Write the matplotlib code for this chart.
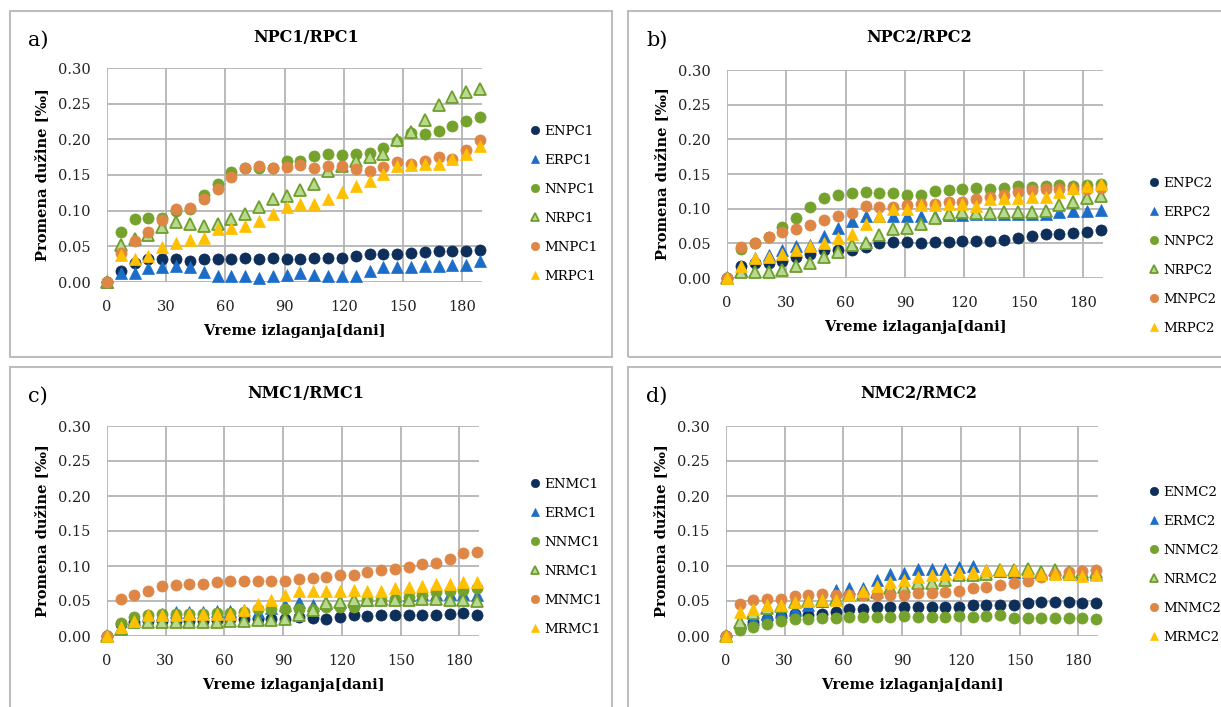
import numpy as np
import matplotlib; matplotlib.use("Agg")
import matplotlib.pyplot as plt
from matplotlib.patches import Rectangle

# ── data ────────────────────────────────────────────────────────
days = [0, 7, 14, 21, 28, 35, 42, 49, 56, 63, 70, 77, 84, 91, 98, 105,
        112, 119, 126, 133, 140, 147, 154, 161, 168, 175, 182, 189]
x_ticks = [0, 30, 60, 90, 120, 150, 180]
y_ticks = [0.00, 0.05, 0.10, 0.15, 0.20, 0.25, 0.30]
NA = np.nan

enpc1 = [0, 0.016, 0.026, 0.032, 0.032, 0.032, 0.030, 0.032, 0.032, 0.032, 0.033, 0.032, 0.034, 0.032,
         0.032, 0.033, 0.033, 0.034, 0.036, 0.039, 0.039, 0.039, 0.041, 0.042, 0.043, 0.044, 0.044, 0.045]
erpc1 = [0, 0.012, 0.013, 0.019, 0.021, 0.023, 0.021, 0.014, 0.008, 0.009, 0.009, 0.006, 0.008, 0.010,
         0.012, 0.010, 0.008, 0.008, 0.008, 0.015, 0.021, 0.021, 0.021, 0.022, 0.023, 0.024, 0.024, 0.029]
nnpc1 = [0, 0.070, 0.088, 0.090, 0.090, 0.100, 0.103, 0.122, 0.137, 0.154, 0.160, 0.160, 0.160, 0.169,
         0.170, 0.177, 0.180, 0.178, 0.179, 0.181, 0.188, 0.198, 0.209, 0.207, 0.212, 0.219, 0.226, 0.232]
nrpc1 = [0, 0.052, 0.060, 0.066, 0.077, 0.084, 0.081, 0.078, 0.081, 0.088, 0.095, 0.105, 0.117, 0.120,
         0.129, 0.137, 0.155, 0.162, 0.169, 0.175, 0.180, 0.199, 0.210, 0.227, 0.248, 0.259, 0.267, 0.271]
mnpc1 = [0, 0.041, 0.057, 0.070, 0.087, 0.103, 0.104, 0.117, 0.130, 0.147, 0.160, 0.162, 0.160, 0.161,
         0.164, 0.160, 0.163, 0.163, 0.159, 0.156, 0.161, 0.168, 0.165, 0.170, 0.175, 0.173, 0.185, 0.199]
mrpc1 = [NA, 0.038, 0.032, 0.036, 0.049, 0.055, 0.059, 0.062, 0.075, 0.076, 0.079, 0.085, 0.095, 0.105,
         0.110, 0.110, 0.117, 0.126, 0.134, 0.141, 0.151, 0.162, 0.164, 0.165, 0.165, 0.173, 0.180, 0.191]

enpc2 = [0, 0.017, 0.021, 0.022, 0.025, 0.031, 0.034, 0.040, 0.040, 0.040, 0.045, 0.050, 0.052, 0.052,
         0.051, 0.052, 0.052, 0.053, 0.054, 0.054, 0.055, 0.057, 0.060, 0.063, 0.063, 0.065, 0.067, 0.069]
erpc2 = [0, 0.012, 0.029, 0.033, 0.040, 0.046, 0.048, 0.060, 0.072, 0.082, 0.089, 0.090, 0.090, 0.090,
         0.090, 0.090, 0.091, 0.091, 0.092, 0.093, 0.093, 0.093, 0.093, 0.093, 0.095, 0.096, 0.096, 0.098]
nnpc2 = [0, 0.042, 0.051, 0.059, 0.074, 0.087, 0.102, 0.115, 0.120, 0.123, 0.124, 0.122, 0.123, 0.120,
         0.120, 0.125, 0.127, 0.128, 0.130, 0.128, 0.130, 0.133, 0.131, 0.132, 0.134, 0.133, 0.134, 0.136]
nrpc2 = [0, 0.009, 0.009, 0.009, 0.011, 0.018, 0.021, 0.030, 0.038, 0.047, 0.051, 0.062, 0.070, 0.072,
         0.078, 0.087, 0.093, 0.095, 0.094, 0.094, 0.095, 0.095, 0.095, 0.097, 0.105, 0.110, 0.115, 0.118]
mnpc2 = [0, 0.044, 0.051, 0.059, 0.067, 0.070, 0.076, 0.084, 0.090, 0.094, 0.104, 0.103, 0.102, 0.106,
         0.107, 0.107, 0.109, 0.110, 0.114, 0.117, 0.120, 0.124, 0.127, 0.128, 0.128, 0.128, 0.129, 0.130]
mrpc2 = [0, 0.017, 0.029, 0.030, 0.034, 0.040, 0.046, 0.050, 0.058, 0.064, 0.078, 0.089, 0.100, 0.100,
         0.106, 0.106, 0.107, 0.107, 0.104, 0.114, 0.116, 0.116, 0.117, 0.117, 0.124, 0.130, 0.132, 0.135]

enmc1 = [0, 0.017, 0.020, 0.021, 0.022, 0.022, 0.022, 0.022, 0.023, 0.024, 0.025, 0.025, 0.025, 0.025,
         0.027, 0.026, 0.025, 0.027, 0.030, 0.028, 0.030, 0.030, 0.030, 0.030, 0.030, 0.031, 0.033, 0.030]
ermc1 = [0, 0.012, 0.025, 0.030, 0.032, 0.034, 0.035, 0.035, 0.036, 0.036, 0.037, 0.035, 0.040, 0.045,
         0.048, 0.045, 0.047, 0.048, 0.050, 0.052, 0.055, 0.057, 0.058, 0.060, 0.060, 0.060, 0.060, 0.058]
nnmc1 = [0, 0.019, 0.027, 0.030, 0.031, 0.031, 0.032, 0.032, 0.033, 0.033, 0.035, 0.038, 0.038, 0.039,
         0.039, 0.037, 0.041, 0.041, 0.042, 0.051, 0.051, 0.053, 0.056, 0.058, 0.063, 0.064, 0.066, 0.069]
nrmc1 = [0, 0.010, 0.020, 0.020, 0.020, 0.020, 0.020, 0.020, 0.020, 0.022, 0.022, 0.023, 0.023, 0.025,
         0.030, 0.037, 0.047, 0.049, 0.051, 0.051, 0.052, 0.052, 0.052, 0.053, 0.053, 0.052, 0.052, 0.050]
mnmc1 = [0, 0.053, 0.059, 0.065, 0.072, 0.073, 0.075, 0.075, 0.077, 0.078, 0.079, 0.078, 0.079, 0.079,
         0.082, 0.083, 0.084, 0.087, 0.087, 0.091, 0.094, 0.096, 0.099, 0.103, 0.104, 0.110, 0.118, 0.120]
mrmc1 = [0, 0.013, 0.022, 0.030, 0.030, 0.030, 0.032, 0.032, 0.032, 0.032, 0.037, 0.046, 0.051, 0.058,
         0.064, 0.064, 0.065, 0.065, 0.066, 0.064, 0.065, 0.068, 0.070, 0.072, 0.075, 0.075, 0.077, 0.077]

enmc2 = [0, 0.013, 0.020, 0.025, 0.028, 0.032, 0.030, 0.031, 0.034, 0.038, 0.039, 0.041, 0.041, 0.041,
         0.041, 0.041, 0.041, 0.041, 0.044, 0.044, 0.044, 0.045, 0.047, 0.048, 0.048, 0.049, 0.047, 0.047]
ermc2 = [0, 0.019, 0.025, 0.031, 0.034, 0.037, 0.045, 0.050, 0.066, 0.068, 0.069, 0.080, 0.089, 0.090,
         0.096, 0.096, 0.096, 0.098, 0.100, 0.095, 0.093, 0.092, 0.091, 0.090, 0.090, 0.089, 0.088, 0.088]
nnmc2 = [0, 0.009, 0.013, 0.017, 0.021, 0.025, 0.025, 0.026, 0.026, 0.027, 0.027, 0.027, 0.027, 0.028,
         0.027, 0.027, 0.027, 0.028, 0.027, 0.028, 0.030, 0.026, 0.026, 0.026, 0.026, 0.026, 0.026, 0.024]
nrmc2 = [0, 0.020, 0.033, 0.040, 0.043, 0.048, 0.050, 0.052, 0.053, 0.058, 0.060, 0.063, 0.069, 0.070,
         0.076, 0.076, 0.080, 0.087, 0.087, 0.089, 0.094, 0.094, 0.096, 0.092, 0.094, 0.092, 0.092, 0.092]
mnmc2 = [0, 0.046, 0.051, 0.053, 0.053, 0.057, 0.058, 0.060, 0.058, 0.058, 0.059, 0.059, 0.059, 0.059,
         0.061, 0.062, 0.063, 0.065, 0.068, 0.070, 0.073, 0.076, 0.079, 0.084, 0.088, 0.092, 0.093, 0.095]
mrmc2 = [0, 0.035, 0.039, 0.044, 0.045, 0.049, 0.050, 0.051, 0.052, 0.058, 0.064, 0.072, 0.077, 0.080,
         0.084, 0.087, 0.089, 0.091, 0.092, 0.094, 0.095, 0.095, 0.093, 0.089, 0.088, 0.088, 0.086, 0.087]

# ── styling ─────────────────────────────────────────────────────
W, H = 1221, 707
plt.rcParams["font.family"] = ["DejaVu Serif", "DejaVu Sans"]
GRID = "#B4B4B4"
# (marker, face, edge) per series position
STYLES = [("o", "#0E2F5A", "#0E2F5A"),
          ("^", "#1C6DC9", "#1C6DC9"),
          ("o", "#74A22C", "#74A22C"),
          ("^", "#B9D98F", "#6E9E2C"),
          ("o", "#DE8646", "#DE8646"),
          ("^", "#FFC000", "#FFC000")]

panels = [
    dict(tag="a)", title="NPC1/RPC1", box=(10, 11, 612, 357), ax=(107, 68, 482, 282),
         leg=(524, 204), names=["ENPC1", "ERPC1", "NNPC1", "NRPC1", "MNPC1", "MRPC1"],
         series=[enpc1, erpc1, nnpc1, nrpc1, mnpc1, mrpc1]),
    dict(tag="b)", title="NPC2/RPC2", box=(628, 11, 1223, 357), ax=(727, 70, 1103, 278),
         leg=(1143, 256), names=["ENPC2", "ERPC2", "NNPC2", "NRPC2", "MNPC2", "MRPC2"],
         series=[enpc2, erpc2, nnpc2, nrpc2, mnpc2, mrpc2]),
    dict(tag="c)", title="NMC1/RMC1", box=(10, 367, 612, 709), ax=(107, 426, 479, 636),
         leg=(524, 557), names=["ENMC1", "ERMC1", "NNMC1", "NRMC1", "MNMC1", "MRMC1"],
         series=[enmc1, ermc1, nnmc1, nrmc1, mnmc1, mrmc1]),
    dict(tag="d)", title="NMC2/RMC2", box=(628, 367, 1223, 709), ax=(726, 426, 1098, 636),
         leg=(1143, 565), names=["ENMC2", "ERMC2", "NNMC2", "NRMC2", "MNMC2", "MRMC2"],
         series=[enmc2, ermc2, nnmc2, nrmc2, mnmc2, mrmc2]),
]

fig = plt.figure(figsize=(W / 100, H / 100), dpi=100)

def fx(px): return px / W
def fy(py): return 1 - py / H

for p in panels:
    x0, y0, x1, y1 = p["box"]
    fig.patches.append(Rectangle((fx(x0), fy(y1)), fx(x1 - x0), (y1 - y0) / H,
                                 transform=fig.transFigure, fill=False,
                                 edgecolor="#BDBDBD", lw=1.5))
    ax0, ay0, ax1, ay1 = p["ax"]
    ax = fig.add_axes([fx(ax0), fy(ay1), fx(ax1 - ax0), (ay1 - ay0) / H])
    for (mk, fc, ec), vals, name in zip(STYLES, p["series"], p["names"]):
        ax.plot(days, vals, ls="none", marker=mk, ms=8 if mk == "o" else 8.5,
                mfc=fc, mec=ec, mew=1.3 if fc != ec else 0.5,
                label=name, clip_on=False, zorder=3)
    ax.set_xlim(0, 190)
    ax.set_ylim(0, 0.30)
    ax.set_xticks(x_ticks)
    ax.set_yticks(y_ticks)
    ax.set_yticklabels([f"{v:.2f}" for v in y_ticks])
    ax.grid(True, color=GRID, lw=1.3)
    ax.set_axisbelow(True)
    for s in ax.spines.values():
        s.set_visible(False)
    ax.tick_params(length=0, labelsize=10.5, colors="#222222", pad=12)
    ax.tick_params(axis="x", pad=13)
    ax.set_xlabel("Vreme izlaganja[dani]", fontsize=10.5, fontweight="bold", labelpad=7)
    ax.set_ylabel("Promena dužine [‰]", fontsize=10.5, fontweight="bold", labelpad=6)
    # title and tag placed in figure pixels
    fig.text(fx((x0 + min(x1, 1220)) / 2 - 5), fy(y0 + 27), p["title"], ha="center", va="center",
             fontsize=11.5, fontweight="bold")
    fig.text(fx(x0 + 18), fy(y0 + 29), p["tag"], ha="left", va="center", fontsize=15)
    lx, ly = p["leg"]
    ax.legend(loc="center left", bbox_to_anchor=(fx(lx), fy(ly)), bbox_transform=fig.transFigure,
              frameon=False, fontsize=9.6, markerscale=0.75, handlelength=0.6,
              handletextpad=0.4, labelspacing=1.2, borderpad=0)

fig.savefig("out.png", dpi=100)
